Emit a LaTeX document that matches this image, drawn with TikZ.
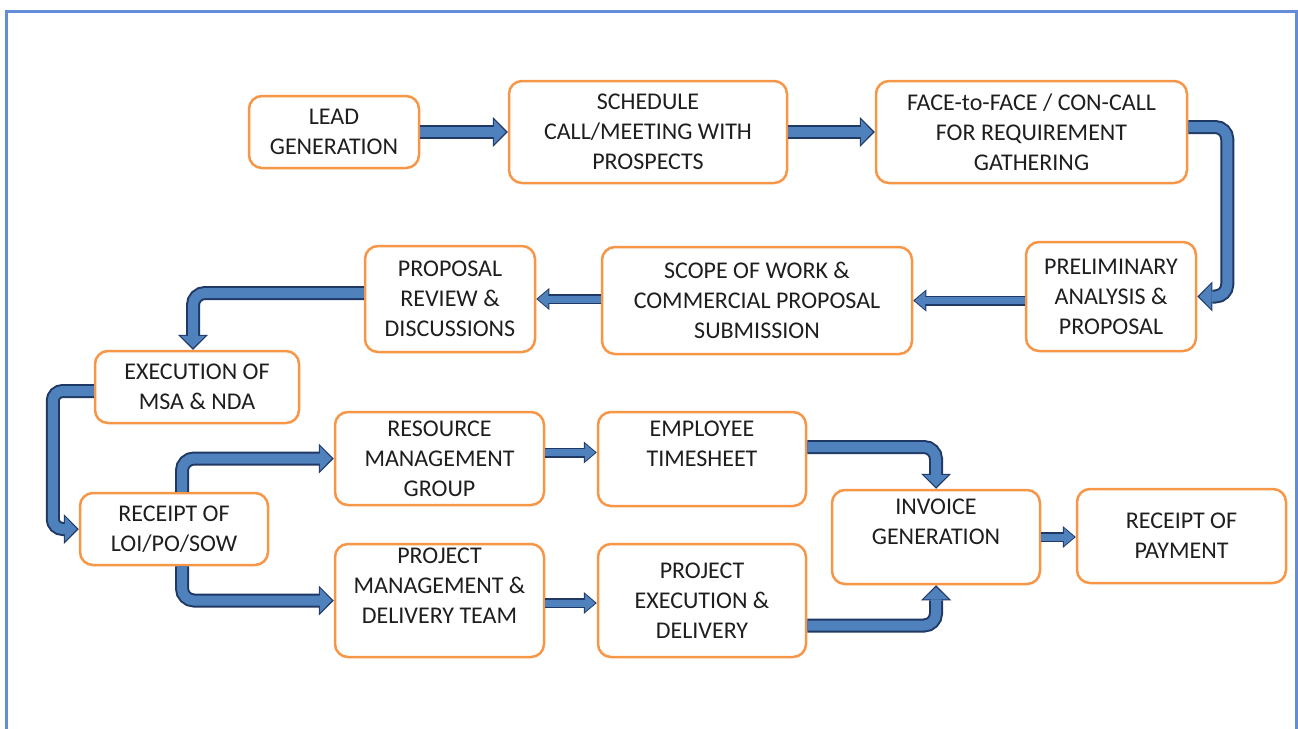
\documentclass[tikz,border=0pt]{standalone}
\usepackage{fontspec}
\setmainfont{Carlito}
\usetikzlibrary{arrows.meta}
\definecolor{boxorange}{RGB}{247,150,70}
\definecolor{arblue}{RGB}{79,129,189}
\definecolor{ardark}{RGB}{31,56,100}
\definecolor{frameblue}{RGB}{100,140,215}
\definecolor{txt}{RGB}{30,30,30}
\tikzset{bx/.append style={draw=boxorange, line width=2.5pt, rounded corners=13pt, align=center, inner sep=0pt, text=txt, font=\fontsize{24}{30}\selectfont}}
\tikzset{ba/.append style={preaction={draw=ardark, line width=14pt, shorten >=0pt, -{Triangle[length=15pt, width=30pt, line width=0pt]}}, draw=arblue, line width=10pt, shorten >=2pt, -{Triangle[length=12pt, width=25pt, line width=0pt]}, rounded corners=12pt}}
\tikzset{sa/.append style={preaction={draw=ardark, line width=10pt, shorten >=0pt, -{Triangle[length=13pt, width=22pt, line width=0pt]}}, draw=arblue, line width=7pt, shorten >=1.5pt, -{Triangle[length=10.5pt, width=18pt, line width=0pt]}}}

\begin{document}
\begin{tikzpicture}[x=1pt,y=-1pt]
                \useasboundingbox (0,0) rectangle (1298,728);
                \draw[frameblue, line width=3pt] (6.5,730) -- (6.5,11) -- (1296.5,11) -- (1296.5,730);
                % stages
                \node[bx, minimum width=170pt, minimum height=72pt] (lead) at (334,132) {LEAD\\GENERATION};
                \node[bx, minimum width=278pt, minimum height=102pt] (sched) at (648,132) {SCHEDULE\\CALL/MEETING WITH\\PROSPECTS};
                \node[bx, minimum width=311pt, minimum height=102pt] (face) at (1031.5,132) {FACE-to-FACE / CON-CALL\\FOR REQUIREMENT\\GATHERING};
                \node[bx, minimum width=170pt, minimum height=109pt] (prelim) at (1111,296.5) {PRELIMINARY\\ANALYSIS \&\\PROPOSAL};
                \node[bx, minimum width=310pt, minimum height=107pt] (scope) at (757,300.5) {SCOPE OF WORK \&\\COMMERCIAL PROPOSAL\\SUBMISSION};
                \node[bx, minimum width=170pt, minimum height=106pt] (review) at (450,299) {PROPOSAL\\REVIEW \&\\DISCUSSIONS};
                \node[bx, minimum width=204pt, minimum height=72pt] (exec) at (197,387) {EXECUTION OF\\MSA \& NDA};
                \node[bx, minimum width=188pt, minimum height=72pt] (loi) at (174,529) {RECEIPT OF\\LOI/PO/SOW};
                \node[bx, minimum width=209pt, minimum height=93pt] (rmg) at (439.5,458.5) {RESOURCE\\MANAGEMENT\\GROUP};
                \node[bx, minimum width=209pt, minimum height=113pt] (pmd) at (439.5,600.5) {PROJECT\\MANAGEMENT \&\\DELIVERY TEAM\\\mbox{}};
                \node[bx, minimum width=208pt, minimum height=94pt] (ts) at (702,459) {EMPLOYEE\\TIMESHEET\\\mbox{}};
                \node[bx, minimum width=208pt, minimum height=113pt] (ped) at (702,600.5) {PROJECT\\EXECUTION \&\\DELIVERY};
                \node[bx, minimum width=208pt, minimum height=94pt] (inv) at (936,537) {INVOICE\\GENERATION\\\mbox{}};
                \node[bx, minimum width=209pt, minimum height=94pt] (pay) at (1181.5,536) {RECEIPT OF\\PAYMENT};
                % flow
                \draw[ba] (lead) -- (sched);
                \draw[ba] (sched) -- (face);
                \draw[ba] ([yshift=5pt]face.east) -- ++(39,0) |- (prelim.east);
                \draw[sa] (prelim.west |- scope.east) -- (scope.east);
                \draw[sa] (scope.west |- review.east) -- (review.east);
                \draw[ba] ([yshift=6pt]review.west) -| ([xshift=-4pt]exec.north);
                \draw[ba, rounded corners=10pt] ([yshift=-4pt]exec.west) -- ++(-41,0) |- (loi.west);
                \draw[ba] ([xshift=8pt]loi.north) |- (rmg.west);
                \draw[ba] ([xshift=8pt]loi.south) |- (pmd.west);
                \draw[sa] ([yshift=6pt]rmg.east) -- ([yshift=6pt]rmg.east -| ts.west);
                \draw[sa] (pmd.east |- 0,603) -- (ped.west |- 0,603);
                \draw[ba] ([yshift=12pt]ts.east) -| (inv.north);
                \draw[ba] ([yshift=-25pt]ped.east) -| (inv.south);
                \draw[sa] (inv.east) -- (inv.east -| pay.west);
\end{tikzpicture}
\end{document}
